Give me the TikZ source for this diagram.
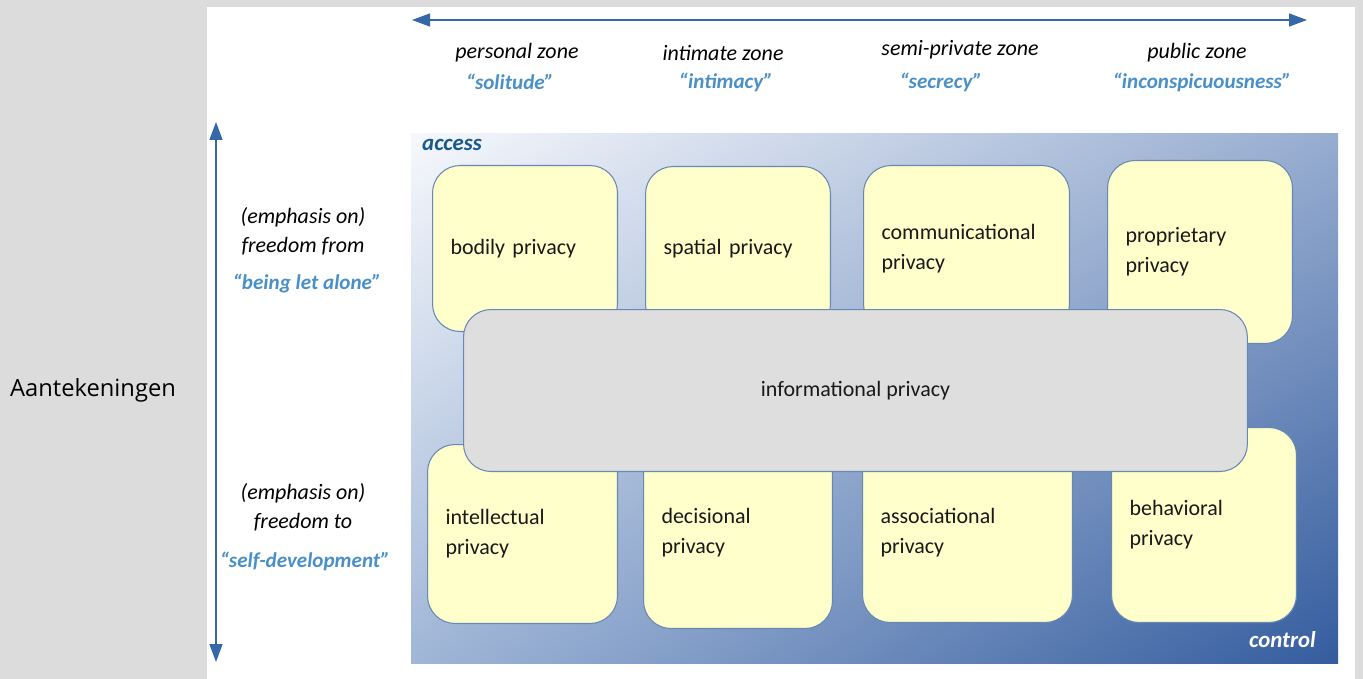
\documentclass[tikz,border=0pt]{standalone}
\usepackage{fontspec}
\setmainfont{Carlito}
\newfontfamily\sidefont{Open Sans}
\usetikzlibrary{arrows.meta, positioning, shadings}

\definecolor{pagegrey}{RGB}{220,220,220}
\definecolor{axisblue}{RGB}{52,104,168}
\definecolor{quoteblue}{RGB}{74,144,200}
\definecolor{noteyellow}{RGB}{255,255,204}
\definecolor{boxedge}{RGB}{104,136,180}
\definecolor{infogrey}{RGB}{222,222,222}
\definecolor{accessblue}{RGB}{24,90,140}
\definecolor{fieldlight}{RGB}{246,248,252}
\definecolor{fieldtr}{RGB}{150,172,208}
\definecolor{fieldbl}{RGB}{160,182,215}
\definecolor{fielddark}{RGB}{52,92,158}

\begin{document}
\begin{tikzpicture}[x=0.02cm, y=-0.02cm,
    zone/.style={font=\fontsize{12.5}{15}\selectfont\itshape},
    quote/.style={font=\fontsize{12}{15}\selectfont\bfseries\itshape, text=quoteblue},
    emph/.style={font=\fontsize{12.5}{16.5}\selectfont\itshape, align=center},
    privacy/.style={draw=boxedge, fill=noteyellow, line width=0.6pt, rounded corners=0.55cm,
        anchor=north west, align=left, inner xsep=0.36cm, text=black!90,
        font=\fontsize{12.5}{17}\selectfont},
    info/.style={draw=boxedge, fill=infogrey, line width=0.6pt, rounded corners=0.55cm,
        anchor=north west, text=black!90, font=\fontsize{12.5}{15}\selectfont},
    axis/.style={{Triangle[length=3.6mm, width=2.6mm]}-{Triangle[length=3.6mm, width=2.6mm]},
        axisblue, line width=0.8pt}
]
    % page and white panel
    \fill[pagegrey] (0,0) rectangle (1363,679);
    \fill[white] (207,7) rectangle (1355,679);
    \useasboundingbox (0,0) rectangle (1363,679);

    \node[font=\sidefont\fontsize{13.5}{16}\selectfont] (notes) at (93,390) {Aantekeningen};

    % zone axis
    \coordinate (zoneleft) at (412,20);
    \coordinate (zoneright) at (1307,20);
    \draw[axis] (zoneleft) -- (zoneright);

    \node[zone] (personal) at (517,53) {personal zone};
    \node[zone] (intimate) at (723,53) {intimate zone};
    \node[zone] (semipriv) at (960,50) {semi-private zone};
    \node[zone] (public) at (1197,53) {public zone};
    \node[quote] (solitude) at (510,82) {“solitude”};
    \node[quote] (intimacy) at (726,82) {“intimacy”};
    \node[quote] (secrecy) at (941,82) {“secrecy”};
    \node[quote] (inconsp) at (1202,82) {“inconspicuousness”};

    % freedom axis
    \coordinate (freetop) at (216,122);
    \coordinate (freebottom) at (216,662);
    \draw[axis] (freetop) -- (freebottom);

    \node[emph] (fromtxt) at (303,231) {(emphasis on)\\freedom from};
    \node[quote] (alone) at (307,284) {“being let alone”};
    \node[emph] (totxt) at (303,507) {(emphasis on)\\freedom to};
    \node[quote] (selfdev) at (305,561) {“self-development”};

    % access / control field
    \shade[upper left=fieldlight, upper right=fieldtr, lower left=fieldbl, lower right=fielddark]
        (411,134) rectangle (1338,663);
    \node[font=\fontsize{13}{15}\selectfont\bfseries\itshape, text=accessblue, anchor=west] (access) at (416,145) {access};
    \node[font=\fontsize{13}{15}\selectfont\bfseries\itshape, text=white, anchor=east] (control) at (1322,640) {control};

    % upper row
    \node[privacy, text width=2.98cm, minimum height=3.32cm] (bodily) at (432,165) {bodily privacy};
    \node[privacy, text width=2.98cm, minimum height=3.30cm] (spatial) at (645,166) {spatial privacy};
    \node[privacy, text width=3.40cm, minimum height=3.32cm] (comm) at (863,165) {communicational\\privacy};
    \node[privacy, text width=2.98cm, minimum height=3.66cm] (propr) at (1107,160) {proprietary\\privacy};

    % lower row
    \node[privacy, text width=3.08cm, minimum height=3.58cm] (intell) at (427,444) {intellectual\\privacy};
    \node[privacy, text width=3.06cm, minimum height=3.82cm] (decis) at (643,437) {decisional\\privacy};
    \node[privacy, text width=3.48cm, minimum height=3.58cm] (assoc) at (862,443) {associational\\privacy};
    \node[privacy, text width=2.98cm, minimum height=3.90cm] (behav) at (1111,427) {behavioral\\privacy};

    % informational privacy on top of both rows
    \node[info, minimum width=15.68cm, minimum height=3.24cm] (inform) at (463,309) {informational privacy};
\end{tikzpicture}
\end{document}
